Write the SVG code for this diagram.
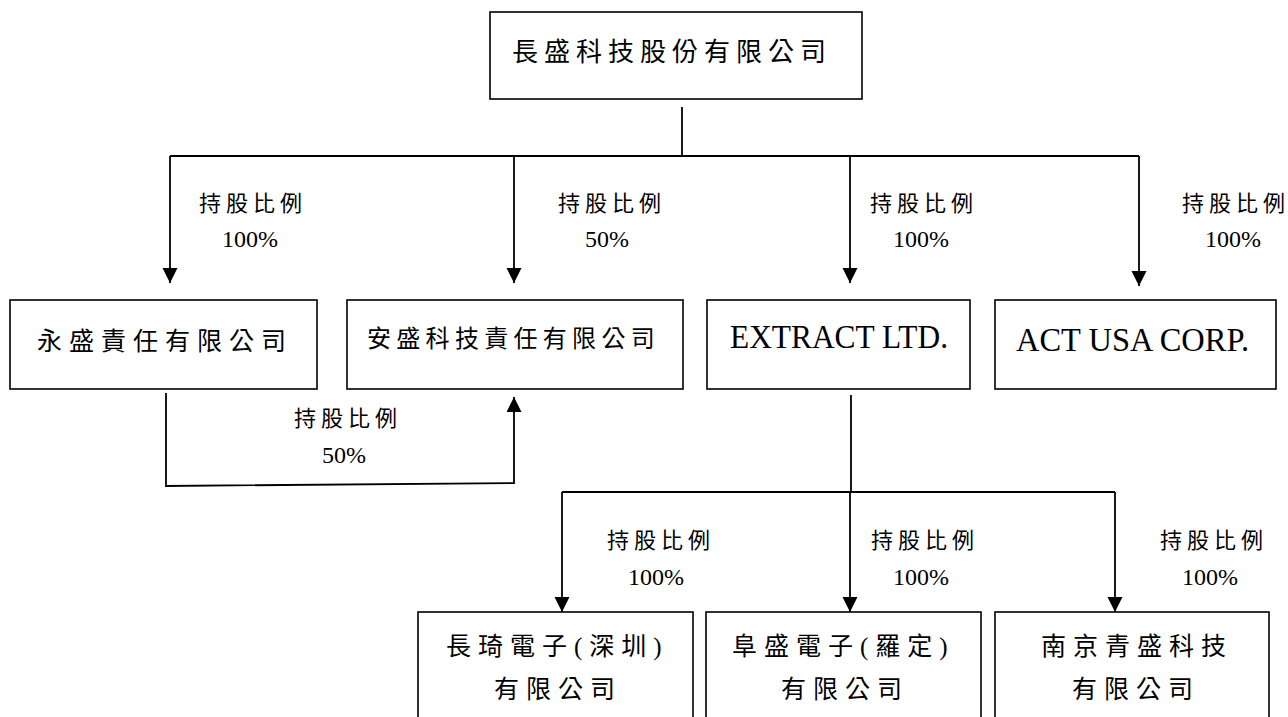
<svg xmlns="http://www.w3.org/2000/svg" width="1288" height="717" viewBox="0 0 1288 717">
<style>
.box{fill:#fff;stroke:#000;stroke-width:1.6}
.ln{fill:none;stroke:#000;stroke-width:1.8}
.cj{font-family:"Liberation Serif","Noto Sans CJK TC",serif;fill:#000}
.nt{font-size:25px;letter-spacing:7px}
.lb{font-size:22px}
.pc{font-family:"Liberation Serif",serif;font-size:24px;fill:#000}
.en{font-family:"Liberation Serif",serif;font-size:34px;fill:#000}
</style>
<defs>
<marker id="ah" markerUnits="userSpaceOnUse" markerWidth="16" markerHeight="16" refX="15" refY="7.5" orient="auto">
<path d="M0,0 L15,7.5 L0,15 Z" fill="#000"/>
</marker>
</defs>
<rect width="1288" height="717" fill="#fff"/>
<g id="connectors">
<path class="ln" d="M682,107 V156"/>
<path class="ln" d="M170,156 H1139"/>
<path class="ln" d="M170,156 V283" marker-end="url(#ah)"/>
<path class="ln" d="M514,156 V283" marker-end="url(#ah)"/>
<path class="ln" d="M850,156 V283" marker-end="url(#ah)"/>
<path class="ln" d="M1139,156 V286" marker-end="url(#ah)"/>
<path class="ln" d="M166,393 V486 L514,483 V397" marker-end="url(#ah)"/>
<path class="ln" d="M851,395 V493"/>
<path class="ln" d="M562,492 H1115"/>
<path class="ln" d="M562,492 V612" marker-end="url(#ah)"/>
<path class="ln" d="M850,492 V612" marker-end="url(#ah)"/>
<path class="ln" d="M1115,492 V612" marker-end="url(#ah)"/>
<g id="labels">
<text class="cj lb" x="199 226 253 280" y="211">持股比例</text>
<text class="pc" x="222" y="247">100%</text>
<text class="cj lb" x="558 585 612 639" y="211">持股比例</text>
<text class="pc" x="585" y="247">50%</text>
<text class="cj lb" x="870 897 924 951" y="211">持股比例</text>
<text class="pc" x="893" y="247">100%</text>
<text class="cj lb" x="1182 1209 1236 1263" y="211">持股比例</text>
<text class="pc" x="1205" y="247">100%</text>
<text class="cj lb" x="294 321 348 375" y="426">持股比例</text>
<text class="pc" x="322" y="463">50%</text>
<text class="cj lb" x="607 634 661 688" y="548">持股比例</text>
<text class="pc" x="628" y="585">100%</text>
<text class="cj lb" x="871 898 925 952" y="548">持股比例</text>
<text class="pc" x="893" y="585">100%</text>
<text class="cj lb" x="1160 1187 1214 1241" y="548">持股比例</text>
<text class="pc" x="1182" y="585">100%</text>
</g>
</g>
<g id="n-top">
<rect class="box" x="490" y="12" width="372" height="87"/>
<text class="cj" x="512" y="61" font-size="26" letter-spacing="6">長盛科技股份有限公司</text>
</g>
<g id="n-yongsheng">
<rect class="box" x="10" y="300" width="307" height="89"/>
<text class="cj nt" x="37" y="350">永盛責任有限公司</text>
</g>
<g id="n-ansheng">
<rect class="box" x="347" y="300" width="336" height="89"/>
<text class="cj" x="367" y="347" font-size="24" letter-spacing="5.3">安盛科技責任有限公司</text>
</g>
<g id="n-extract">
<rect class="box" x="707" y="300" width="263" height="89"/>
<text class="en" x="730" y="348" textLength="218" lengthAdjust="spacingAndGlyphs">EXTRACT LTD.</text>
</g>
<g id="n-actusa">
<rect class="box" x="995" y="300" width="281" height="89"/>
<text class="en" x="1016" y="351" textLength="233" lengthAdjust="spacingAndGlyphs">ACT USA CORP.</text>
</g>
<g id="n-changqi">
<rect class="box" x="418" y="612" width="275" height="120"/>
<text class="cj nt" x="446" y="655">長琦電子(深圳)</text>
<text class="cj nt" x="494" y="698">有限公司</text>
</g>
<g id="n-fusheng">
<rect class="box" x="706" y="612" width="275" height="120"/>
<text class="cj nt" x="732" y="655">阜盛電子(羅定)</text>
<text class="cj nt" x="781" y="698">有限公司</text>
</g>
<g id="n-nanjing">
<rect class="box" x="995" y="612" width="274" height="120"/>
<text class="cj nt" x="1041" y="655">南京青盛科技</text>
<text class="cj nt" x="1072" y="698">有限公司</text>
</g>
</svg>
